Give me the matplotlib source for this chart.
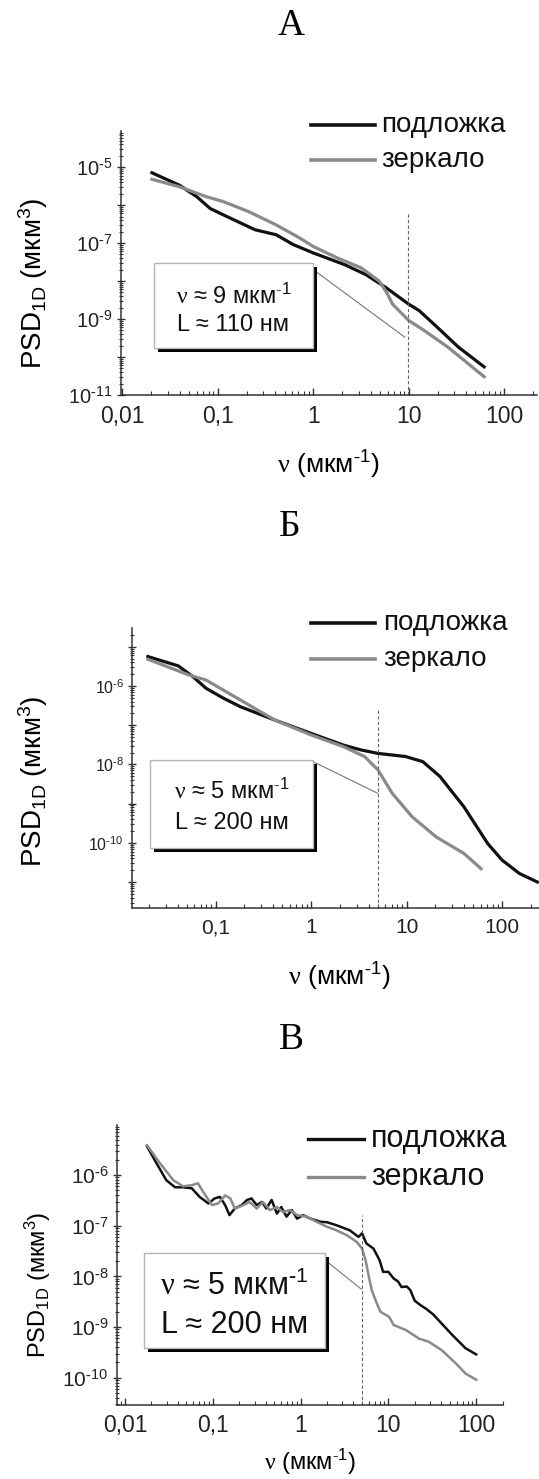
import matplotlib
matplotlib.use("Agg")
import matplotlib.pyplot as plt
import numpy as np
from matplotlib.lines import Line2D
from matplotlib.patches import Rectangle
from matplotlib.ticker import FixedLocator, FixedFormatter, LogLocator, NullFormatter

plt.rcParams['font.family'] = ['Liberation Sans', 'DejaVu Sans']
plt.rcParams['mathtext.fontset'] = 'custom'
plt.rcParams['mathtext.rm'] = 'Liberation Serif'
plt.rcParams['mathtext.it'] = 'Liberation Sans:italic'
plt.rcParams['mathtext.bf'] = 'Liberation Sans:bold'
plt.rcParams['mathtext.sf'] = 'Liberation Sans'
plt.rcParams['mathtext.default'] = 'regular'

# --- данные (lg ν, lg PSD) ---
# А
a_sub_lgx = [-1.69, -1.40, -1.22, -1.08, -0.94, -0.61, -0.39, -0.21, 0.0, 0.33, 0.55, 0.76, 1.0, 1.11, 1.30, 1.52, 1.79]
a_sub_lgy = [-5.15, -5.48, -5.78, -6.09, -6.26, -6.65, -6.78, -7.04, -7.26, -7.57, -7.83, -8.17, -8.61, -8.78, -9.22, -9.74, -10.26]
a_mir_lgx = [-1.69, -1.40, -1.12, -0.94, -0.68, -0.39, -0.14, 0.0, 0.25, 0.50, 0.69, 0.78, 0.83, 1.0, 1.16, 1.41, 1.79]
a_mir_lgy = [-5.32, -5.52, -5.78, -5.91, -6.17, -6.52, -6.87, -7.09, -7.39, -7.65, -8.0, -8.35, -8.61, -9.04, -9.30, -9.74, -10.52]
a_fit_lgx = [0.0, 0.96]
a_fit_lgy = [-7.70, -9.48]
a_nu = 9.8

# Б
b_sub_lgx = [-1.71, -1.39, -1.24, -1.10, -0.92, -0.74, -0.38, 0.0, 0.34, 0.52, 0.70, 0.99, 1.17, 1.35, 1.60, 1.85, 2.0, 2.18, 2.37]
b_sub_lgy = [-5.25, -5.49, -5.76, -6.06, -6.31, -6.53, -6.87, -7.21, -7.51, -7.63, -7.72, -7.80, -7.93, -8.31, -9.08, -10.02, -10.44, -10.78, -11.0]
b_mir_lgx = [-1.71, -1.28, -1.10, -0.74, -0.38, 0.0, 0.34, 0.56, 0.70, 0.85, 1.06, 1.31, 1.60, 1.78]
b_mir_lgy = [-5.32, -5.72, -5.85, -6.36, -6.87, -7.25, -7.55, -7.80, -8.14, -8.74, -9.34, -9.85, -10.27, -10.66]
b_fit_lgx = [0.02, 0.70]
b_fit_lgy = [-7.93, -8.74]
b_nu = 5.0

# В
c_sub_lgx = [-1.75, -1.64, -1.53, -1.43, -1.34, -1.24, -1.15, -1.05, -0.98, -0.92, -0.86, -0.81, -0.75, -0.67,
             -0.61, -0.56, -0.50, -0.44, -0.39, -0.33, -0.27, -0.22, -0.16, -0.10, -0.04, 0.03, 0.10, 0.22,
             0.30, 0.41, 0.56, 0.66, 0.70, 0.75, 0.83, 0.90, 0.94, 1.00, 1.06, 1.11, 1.15, 1.21, 1.25, 1.30,
             1.36, 1.43, 1.51, 1.58, 1.73, 1.88, 2.0]
c_sub_lgy = [-5.43, -5.77, -6.10, -6.24, -6.24, -6.26, -6.43, -6.56, -6.46, -6.43, -6.59, -6.79, -6.66, -6.59,
             -6.49, -6.46, -6.59, -6.53, -6.66, -6.49, -6.76, -6.63, -6.82, -6.69, -6.86, -6.79, -6.85, -6.92,
             -6.93, -6.99, -7.09, -7.22, -7.15, -7.35, -7.45, -7.68, -7.91, -7.91, -8.04, -8.10, -8.21, -8.20,
             -8.27, -8.48, -8.56, -8.64, -8.75, -8.88, -9.16, -9.42, -9.54]
c_mir_lgx = [-1.75, -1.60, -1.45, -1.34, -1.24, -1.17, -1.11, -1.01, -0.94, -0.86, -0.80, -0.75, -0.65, -0.58,
             -0.50, -0.43, -0.35, -0.27, -0.20, -0.12, -0.04, 0.07, 0.18, 0.30, 0.41, 0.53, 0.64, 0.70, 0.74,
             0.77, 0.81, 0.87, 0.91, 0.94, 1.01, 1.06, 1.20, 1.35, 1.46, 1.61, 1.77, 1.88, 2.0]
c_mir_lgy = [-5.41, -5.77, -6.10, -6.22, -6.20, -6.16, -6.33, -6.59, -6.56, -6.40, -6.46, -6.66, -6.59, -6.53,
             -6.66, -6.53, -6.69, -6.63, -6.73, -6.69, -6.79, -6.82, -6.92, -7.02, -7.09, -7.19, -7.32, -7.45,
             -7.68, -7.94, -8.27, -8.54, -8.70, -8.73, -8.80, -8.96, -9.06, -9.23, -9.29, -9.46, -9.72, -9.92, -10.04]
c_fit_lgx = [0.26, 0.69]
c_fit_lgy = [-7.65, -8.25]
c_nu = 4.95

x_ticks = [0.01, 0.1, 1, 10, 100]
x_labels = ['0,01', '0,1', '1', '10', '100']
legend_names = ['подложка', 'зеркало']

W, H = 539, 1479
fig = plt.figure(figsize=(W / 100, H / 100), dpi=100)

BLACK = '#111111'
GRAY = '#8a8a8a'
SPINE = '#333333'
INV = r'$^{\text{-}1}$'   # короткий дефис в степени, как в оригинале


def fx(x):
    return x / W


def fy(y):
    return 1 - y / H


def make_axes(left, right, top, bottom):
    return fig.add_axes([fx(left), fy(bottom), (right - left) / W, (bottom - top) / H])


def style_axes(ax, xlim, ylim, ylabels_at, xsize, ysize):
    ax.set_xscale('log')
    ax.set_yscale('log')
    ax.set_xlim(10 ** xlim[0], 10 ** xlim[1])
    ax.set_ylim(10 ** ylim[0], 10 ** ylim[1])
    ax.patch.set_alpha(0)
    for s in ['top', 'right']:
        ax.spines[s].set_visible(False)
    for s in ['left', 'bottom']:
        ax.spines[s].set_color(SPINE)
        ax.spines[s].set_linewidth(1.1)
    ax.xaxis.set_major_locator(FixedLocator(x_ticks))
    ax.xaxis.set_major_formatter(FixedFormatter(x_labels))
    ax.xaxis.set_minor_locator(LogLocator(base=10, subs=np.arange(2, 10), numticks=20))
    ax.xaxis.set_minor_formatter(NullFormatter())
    decades = list(range(int(np.floor(ylim[0])), int(np.ceil(ylim[1])) + 1))
    ax.yaxis.set_major_locator(FixedLocator([10.0 ** d for d in decades]))
    ax.yaxis.set_major_formatter(FixedFormatter(
        [r'$10^{\text{-}%d}$' % -d if d in ylabels_at else '' for d in decades]))
    ax.yaxis.set_minor_locator(LogLocator(base=10, subs=np.arange(2, 10), numticks=20))
    ax.yaxis.set_minor_formatter(NullFormatter())
    ax.tick_params(axis='x', which='major', direction='in', length=5, width=1, color=SPINE,
                   labelsize=xsize, pad=7, labelcolor='#222222')
    ax.tick_params(axis='x', which='minor', direction='in', length=3, width=0.8, color=SPINE)
    ax.tick_params(axis='y', which='major', direction='inout', length=6, width=1, color=SPINE,
                   labelsize=ysize, pad=3, labelcolor='#222222')
    ax.tick_params(axis='y', which='minor', direction='inout', length=3, width=0.8, color=SPINE)


def draw_panel(ax, sub, mir, fit, nu, nu_top, lw):
    ax.plot(10 ** np.array(sub[0]), 10 ** np.array(sub[1]), color=BLACK, lw=lw, solid_joinstyle='round')
    ax.plot(10 ** np.array(mir[0]), 10 ** np.array(mir[1]), color=GRAY, lw=lw, solid_joinstyle='round')
    ax.plot(10 ** np.array(fit[0]), 10 ** np.array(fit[1]), color='#777777', lw=0.8)
    ax.plot([nu, nu], [ax.get_ylim()[0], 10 ** nu_top], color='#666666', lw=0.8, ls=(0, (3, 2)))


def legend(x0, x1, text_x, y_sub, y_mir, size, lw):
    for y, c, name in [(y_sub, BLACK, legend_names[0]), (y_mir, GRAY, legend_names[1])]:
        fig.add_artist(Line2D([fx(x0), fx(x1)], [fy(y), fy(y)], color=c, lw=lw, transform=fig.transFigure))
        fig.text(fx(text_x), fy(y), name, fontsize=size, va='center', ha='left', color='#111111')


def note_box(left, top, right, bottom, lines, line_ys, size):
    fig.add_artist(Rectangle((fx(left + 4), fy(bottom + 4)), (right - left) / W, (bottom - top) / H,
                             transform=fig.transFigure, facecolor='black', edgecolor='none', zorder=5))
    fig.add_artist(Rectangle((fx(left), fy(bottom)), (right - left) / W, (bottom - top) / H,
                             transform=fig.transFigure, facecolor='white', edgecolor='#b5b5b5', lw=1, zorder=6))
    cx = (left + right) / 2
    for txt, y in zip(lines, line_ys):
        t = fig.text(fx(cx), fy(y), txt, fontsize=size, ha='center', va='center', color='#111111')
        t.set_zorder(7)


ylab = 'PSD$_{1D}$ (мкм$^{3}$)'
xlab = r'$\mathrm{\nu}$ (мкм' + INV + ')'

# ---------- А ----------
fig.text(fx(291), fy(26), 'А', family='Liberation Serif', fontsize=27, ha='center', va='center')
axA = make_axes(120.7, 536.7, 131, 395)
style_axes(axA, (-2.017, 2.34), (-11, -4.05), [-11, -9, -7, -5], 16.5, 14.5)
draw_panel(axA, (a_sub_lgx, a_sub_lgy), (a_mir_lgx, a_mir_lgy), (a_fit_lgx, a_fit_lgy), a_nu, -6.22, 2.3)
legend(311, 375, 381, 125, 160, 20, 2.6)
note_box(153.7, 263.3, 312.8, 348.3, [r'$\mathrm{\nu}$ ≈ 9 мкм' + INV, 'L ≈ 110 нм'], [296.7, 325], 17)
fig.text(fx(33), fy(283), ylab, rotation=90, fontsize=20, ha='center', va='center')
fig.text(fx(328), fy(465), xlab, fontsize=19, ha='center', va='center')

# ---------- Б ----------
fig.text(fx(290), fy(527), 'Б', family='Liberation Serif', fontsize=27, ha='center', va='center')
axB = make_axes(132.3, 545, 628.3, 908.3)
style_axes(axB, (-1.873, 2.45), (-11.67, -4.53), [-10, -8, -6], 15, 11.5)
draw_panel(axB, (b_sub_lgx, b_sub_lgy), (b_mir_lgx, b_mir_lgy), (b_fit_lgx, b_fit_lgy), b_nu, -6.57, 2.3)
legend(311, 375, 383, 623.3, 659.3, 20, 2.6)
note_box(150.2, 760, 312.8, 848.3, [r'$\mathrm{\nu}$ ≈ 5 мкм' + INV, 'L ≈ 200 нм'], [791.7, 823.3], 17)
fig.text(fx(33), fy(781), ylab, rotation=90, fontsize=20, ha='center', va='center')
fig.text(fx(339), fy(977), xlab, fontsize=19, ha='center', va='center')

# ---------- В ----------
fig.text(fx(291), fy(1040), 'В', family='Liberation Serif', fontsize=27, ha='center', va='center')
axC = make_axes(116.7, 503, 1125, 1404.5)
style_axes(axC, (-2.095, 2.306), (-10.53, -5.01), [-10, -9, -8, -7, -6], 16.5, 15)
draw_panel(axC, (c_sub_lgx, c_sub_lgy), (c_mir_lgx, c_mir_lgy), (c_fit_lgx, c_fit_lgy), c_nu, -6.79, 1.8)
legend(307.7, 364.4, 371.3, 1139, 1176.7, 22, 2.4)
note_box(144, 1252.7, 325, 1348.3, [r'$\mathrm{\nu}$ ≈ 5 мкм' + INV, 'L ≈ 200 нм'], [1286.7, 1325], 22)
fig.text(fx(38), fy(1285), ylab, rotation=90, fontsize=17, ha='center', va='center')
fig.text(fx(310), fy(1462), xlab, fontsize=17, ha='center', va='center')

fig.savefig('out.png', dpi=100)
